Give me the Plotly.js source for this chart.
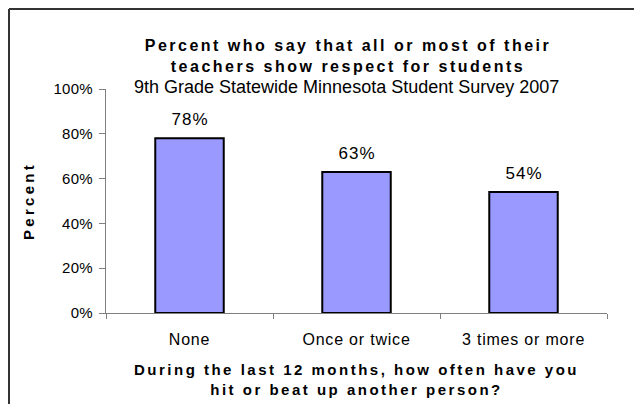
<!DOCTYPE html>
<html>
<head>
<meta charset="utf-8">
<script src="https://cdn.plot.ly/plotly-3.0.1.min.js"></script>
<style>
html,body{margin:0;padding:0;background:#fff;overflow:hidden;}
#chart{width:642px;height:404px;}
#chart .gtitle{letter-spacing:2.5px;}
#chart .xtitle{letter-spacing:2.5px;}
#chart .ytitle{letter-spacing:3.3px;}
#chart .xtick text{letter-spacing:0.8px;}
#chart .ytick text{letter-spacing:0.3px;}
#chart .annotation.datalabel text{letter-spacing:1px;}
</style>
</head>
<body>
<div id="chart"></div>
<script>
const categories = ["None", "Once or twice", "3 times or more"];
const percents = [78, 63, 54];
const yTicks = [0, 20, 40, 60, 80, 100];
const titleLines = ["Percent who say that all or most of their", "teachers show respect for students"];
const subtitle = "9th Grade Statewide Minnesota Student Survey 2007";
const xTitleLines = ["During the last 12 months, how often have you", "hit or beat up another person?"];
const yTitle = "Percent";

const W = 642, H = 404;
const M = {l: 106, r: 35, t: 89, b: 91};
const pw = W - M.l - M.r, ph = H - M.t - M.b;
const px = x => (x - M.l) / pw;
const py = y => (H - M.b - y) / ph;

const font = "Liberation Sans, Arial, sans-serif";

const trace = {
  type: "bar",
  x: categories,
  y: percents,
  width: 0.41,
  marker: {color: "#9999FF", line: {color: "#000000", width: 2}},
  hoverinfo: "none"
};

const labelAnns = categories.map((c, i) => ({
  x: c, y: percents[i], xref: "x", yref: "y",
  text: percents[i] + "%", showarrow: false,
  yanchor: "bottom", yshift: 7,
  font: {family: font, size: 17, color: "#000"}
}));

const borderLine = {color: "#333333", width: 2};

const layout = {
  width: W, height: H,
  margin: M,
  paper_bgcolor: "#fff", plot_bgcolor: "#fff",
  showlegend: false,
  font: {family: font, color: "#000"},
  title: {
    text: "<b>" + titleLines.join("<br>") + "</b>",
    font: {family: font, size: 16, color: "#000"},
    xref: "container", yref: "container",
    x: 348 / W, xanchor: "center",
    y: 1 - 51 / H, yanchor: "top"
  },
  xaxis: {
    type: "category",
    tickson: "boundaries",
    ticks: "outside", ticklen: 5, tickcolor: "#808080",
    ticklabelstandoff: 12,
    showline: true, linecolor: "#808080", linewidth: 1,
    showgrid: false, zeroline: false,
    tickfont: {family: font, size: 16, color: "#000"},
    title: {
      text: "<b>" + xTitleLines.join("<br>") + "</b>",
      font: {family: font, size: 15, color: "#000"},
      standoff: 17
    },
    fixedrange: true
  },
  yaxis: {
    range: [0, 100],
    tickvals: yTicks,
    ticktext: yTicks.map(v => v + "%"),
    ticks: "outside", ticklen: 6, tickcolor: "#808080",
    ticklabelstandoff: 3,
    showline: true, linecolor: "#808080", linewidth: 1,
    showgrid: false, zeroline: false,
    tickfont: {family: font, size: 15, color: "#000"},
    title: {
      text: "<b>" + yTitle + "</b>",
      font: {family: font, size: 15, color: "#000"},
      standoff: 16
    },
    fixedrange: true
  },
  annotations: labelAnns.concat([{
    text: subtitle, showarrow: false,
    xref: "paper", yref: "paper",
    x: px(346), y: py(87), xanchor: "center", yanchor: "middle",
    font: {family: font, size: 18, color: "#000"}
  }]),
  shapes: [
    {type: "line", xref: "paper", yref: "paper",
     x0: px(9), x1: px(634), y0: py(9), y1: py(9), line: borderLine, layer: "below"},
    {type: "line", xref: "paper", yref: "paper",
     x0: px(9), x1: px(9), y0: py(9), y1: py(404), line: borderLine, layer: "below"}
  ]
};

Plotly.newPlot("chart", [trace], layout, {displayModeBar: false, staticPlot: true}).then(gd => {
  const anns = gd.querySelectorAll(".annotation");
  for (let i = 0; i < categories.length && i < anns.length; i++) anns[i].classList.add("datalabel");
});
</script>
</body>
</html>
